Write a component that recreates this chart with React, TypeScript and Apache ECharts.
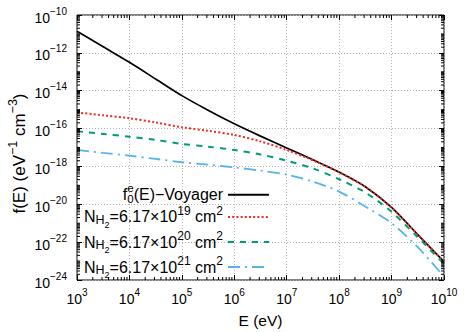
import React, { useEffect, useRef } from 'react';
import * as echarts from 'echarts';

const FONT = '"Liberation Sans", Arial, Helvetica, sans-serif';

// Energies (eV)
const energy = [1e3, 3.16e3, 1e4, 3.16e4, 1e5, 3.16e5, 1e6, 3.16e6, 1e7, 3.16e7, 1e8, 3.16e8, 1e9, 3.16e9, 1e10];
// f(E) values
const voyager = [1.38e-11, 2.09e-12, 3.16e-13, 4.17e-14, 5.5e-15, 9.3e-16, 1.78e-16, 3.98e-17, 9.5e-18, 2.24e-18, 5.0e-19, 8.5e-20, 6.8e-21, 2.5e-22, 9.3e-24];
const nh19 = [7.1e-16, 5.0e-16, 3.5e-16, 2.1e-16, 1.17e-16, 7.6e-17, 4.6e-17, 2.1e-17, 7.4e-18, 2.1e-18, 4.9e-19, 8.3e-20, 6.6e-21, 2.45e-22, 9.1e-24];
const nh20 = [7.2e-17, 5.2e-17, 3.7e-17, 2.5e-17, 1.55e-17, 1.1e-17, 7.4e-18, 4.3e-18, 2.0e-18, 7.9e-19, 2.1e-19, 4.2e-20, 4.0e-21, 1.8e-22, 7.1e-24];
const nh21 = [7.4e-18, 5.2e-18, 3.7e-18, 2.5e-18, 1.66e-18, 1.23e-18, 8.9e-19, 6.0e-19, 3.7e-19, 1.58e-19, 4.7e-20, 7.6e-21, 1.0e-21, 5.4e-23, 1.5e-24];

// Tick label exponents (decades)
const xTickExponents = [3, 4, 5, 6, 7, 8, 9, 10];
const yTickExponents = [-24, -22, -20, -18, -16, -14, -12, -10];

const seriesNames = ['f0e(E)-Voyager', 'NH2=6.17x10^19 cm2', 'NH2=6.17x10^20 cm2', 'NH2=6.17x10^21 cm2'];
const legendLabels: Record<string, string> = {
  'f0e(E)-Voyager': '{b|f}{e|e}{z|0}{b|(E)−Voyager}',
  'NH2=6.17x10^19 cm2': '{b|N}{h|H}{h2|2}{b|=6.17×10}{sp|19}{b| cm}{sp|2}',
  'NH2=6.17x10^20 cm2': '{b|N}{h|H}{h2|2}{b|=6.17×10}{sp|20}{b| cm}{sp|2}',
  'NH2=6.17x10^21 cm2': '{b|N}{h|H}{h2|2}{b|=6.17×10}{sp|21}{b| cm}{sp|2}',
};
const seriesData = [voyager, nh19, nh20, nh21];
const seriesColors = ['#000000', '#ee2a22', '#009e73', '#56b4e9'];
const seriesDash: any[] = ['solid', [2, 2.2], [6, 6], [12, 5, 2, 5]];
const seriesWidth = [1.7, 2, 2, 1.8];

// axes are drawn in decades (log10 of the values)
function expLabel(v: number, list: number[]) {
  const n = Math.round(v);
  if (Math.abs(v - n) > 1e-6 || list.indexOf(n) < 0) return '';
  return `{b|10}{s|${n < 0 ? '−' : ''}${Math.abs(n)}}`;
}

export default function App() {
  const ref = useRef<HTMLDivElement>(null);
  useEffect(() => {
    document.body.style.margin = '0';
    const chart = echarts.init(ref.current!, null, { renderer: 'svg' });

    const xMin = xTickExponents[0], xMax = xTickExponents[xTickExponents.length - 1];
    const yMin = yTickExponents[0], yMax = yTickExponents[yTickExponents.length - 1];

    const xMinor: number[][] = [];
    for (let n = xMin; n < xMax; n++) for (let k = 2; k <= 9; k++) xMinor.push([n + Math.log10(k), -17]);
    const yMinor: number[][] = [];
    for (let n = yMin; n < yMax; n++) {
      for (let k = 1; k <= 9; k++) {
        if (k === 1 && n % 2 === 0) continue;
        yMinor.push([5, n + Math.log10(k)]);
      }
    }

    const axisRich = {
      b: { fontSize: 14, lineHeight: 14, fontFamily: FONT, color: '#000' },
      s: { fontSize: 10, height: 1, verticalAlign: 'top', fontFamily: FONT, color: '#000' },
    };
    const legendRich = {
      b: { fontSize: 16, lineHeight: 23.6, fontFamily: FONT, color: '#000', align: 'left' },
      e: { fontSize: 11.5, height: 10, width: 0, verticalAlign: 'top', fontFamily: FONT, color: '#000', align: 'left' },
      z: { fontSize: 11.5, height: 16, verticalAlign: 'bottom', fontFamily: FONT, color: '#000', align: 'left' },
      sp: { fontSize: 12, height: 11, verticalAlign: 'top', fontFamily: FONT, color: '#000', align: 'left' },
      h: { fontSize: 12.5, height: 18, verticalAlign: 'bottom', fontFamily: FONT, color: '#000', align: 'left' },
      h2: { fontSize: 9, height: 7, verticalAlign: 'bottom', fontFamily: FONT, color: '#000', align: 'left' },
    };

    const tickLine = { color: '#000', width: 1 };
    const grid = { color: '#b4b4b4', type: [1, 2], width: 1 };

    const option: any = {
      animation: false,
      backgroundColor: '#fff',
      grid: {
        left: 77, right: 29, top: 15, bottom: 52,
        show: true, borderColor: '#000', borderWidth: 1, backgroundColor: 'transparent',
        containLabel: false, outerBoundsMode: 'none',
      },
      xAxis: [
        {
          type: 'value', min: xMin, max: xMax, interval: 1,
          axisLine: { show: false },
          axisTick: { show: true, inside: true, length: 5, lineStyle: tickLine },
          axisLabel: {
            margin: 12, showMinLabel: true, showMaxLabel: true, color: '#000', fontFamily: FONT,
            formatter: (v: number) => expLabel(v, xTickExponents), rich: axisRich,
          },
          splitLine: { show: true, lineStyle: grid },
          name: 'E (eV)', nameLocation: 'middle', nameGap: 32, nameMoveOverlap: false,
          nameTextStyle: { fontFamily: FONT, fontSize: 15.5, color: '#000' },
        },
        {
          type: 'value', min: xMin, max: xMax, interval: 1, position: 'top',
          axisLine: { show: false },
          axisTick: { show: true, inside: true, length: 5, lineStyle: tickLine },
          axisLabel: { show: false }, splitLine: { show: false },
        },
      ],
      yAxis: [
        {
          type: 'value', min: yMin, max: yMax, interval: 2,
          axisLine: { show: false },
          axisTick: { show: true, inside: true, length: 5, lineStyle: tickLine },
          axisLabel: {
            margin: 10, padding: [5, 0, 0, 0], showMinLabel: true, showMaxLabel: true, color: '#000', fontFamily: FONT,
            formatter: (v: number) => expLabel(v, yTickExponents), rich: axisRich,
          },
          splitLine: { show: true, lineStyle: grid },
          name: '{b|f(E) (eV}{s|−1}{b| cm}{s|−3}{b|)}', nameLocation: 'middle', nameGap: 46, nameRotate: 90,
          nameMoveOverlap: false,
          nameTextStyle: {
            fontFamily: FONT, fontSize: 17, color: '#000', padding: [0, 12, 0, 0],
            rich: {
              b: { fontSize: 17, lineHeight: 24, fontFamily: FONT, color: '#000' },
              s: { fontSize: 12.5, height: 11, verticalAlign: 'top', fontFamily: FONT, color: '#000' },
            },
          },
        },
        {
          type: 'value', min: yMin, max: yMax, interval: 2, position: 'right',
          axisLine: { show: false },
          axisTick: { show: true, inside: true, length: 5, lineStyle: tickLine },
          axisLabel: { show: false }, splitLine: { show: false },
        },
      ],
      legend: {
        data: seriesNames, orient: 'vertical', align: 'right', right: 203, top: 182,
        padding: 0, itemGap: 0, itemWidth: 41, itemHeight: 14, selectedMode: false,
        itemStyle: { opacity: 0 },
        formatter: (name: string) => legendLabels[name],
        textStyle: { fontFamily: FONT, fontSize: 16, color: '#000', rich: legendRich },
      },
      series: [
        ...seriesNames.map((name, i) => ({
          name, type: 'line', symbol: 'none', showSymbol: false, smooth: 0.3,
          data: energy.map((e, j) => [Math.log10(e), Math.log10(seriesData[i][j])]),
          lineStyle: { color: seriesColors[i], width: seriesWidth[i], type: seriesDash[i] },
          itemStyle: { color: seriesColors[i] },
          z: 3 + i,
        })),
        {
          type: 'custom', name: 'xminor', data: xMinor, silent: true, z: 10,
          renderItem: (params: any, api: any) => {
            const cs = params.coordSys;
            const x = api.coord([api.value(0), api.value(1)])[0];
            const b = cs.y + cs.height;
            return {
              type: 'group', children: [
                { type: 'line', shape: { x1: x, y1: b, x2: x, y2: b - 3 }, style: { stroke: '#000', lineWidth: 1 } },
                { type: 'line', shape: { x1: x, y1: cs.y, x2: x, y2: cs.y + 3 }, style: { stroke: '#000', lineWidth: 1 } },
              ],
            };
          },
        },
        {
          type: 'custom', name: 'yminor', data: yMinor, silent: true, z: 10,
          renderItem: (params: any, api: any) => {
            const cs = params.coordSys;
            const y = api.coord([api.value(0), api.value(1)])[1];
            const r = cs.x + cs.width;
            return {
              type: 'group', children: [
                { type: 'line', shape: { x1: cs.x, y1: y, x2: cs.x + 3, y2: y }, style: { stroke: '#000', lineWidth: 1 } },
                { type: 'line', shape: { x1: r, y1: y, x2: r - 3, y2: y }, style: { stroke: '#000', lineWidth: 1 } },
              ],
            };
          },
        },
      ],
    };
    chart.setOption(option);
    return () => chart.dispose();
  }, []);
  return <div ref={ref} style={{ position: 'fixed', left: 0, top: 0, width: 473, height: 332 }} />;
}
